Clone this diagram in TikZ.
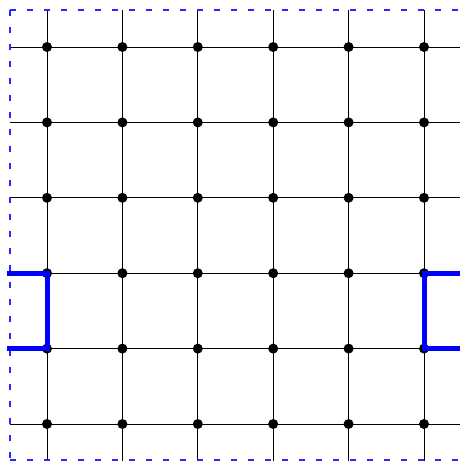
\documentclass[tikz,border=0pt]{standalone}
\begin{document}
\begin{tikzpicture}[x=1pt,y=-1pt,
  gridline/.style={black,line width=0.9pt},
  dot/.style={circle,fill=black,inner sep=0pt,minimum size=10pt},
  frame/.style={draw=blue!85!white,line width=1.4pt,dash pattern=on 6pt off 11pt},
  cut/.style={blue,line width=5pt,line join=miter}]
\useasboundingbox (0,0) rectangle (460,461);
\def\xs{{47,122.4,197.8,273.2,348.6,424}}
% boundary coordinates
\foreach \i in {0,...,5}{
  \pgfmathsetmacro\p{\xs[\i]}
  \coordinate (t\i) at (\p,10);
  \coordinate (b\i) at (\p,462);
  \coordinate (l\i) at (10,\p);
  \coordinate (r\i) at (462,\p);
}
\foreach \i in {0,...,5}{
  \draw[gridline] (t\i) -- (b\i);
  \draw[gridline] (l\i) -- (r\i);
}
\coordinate (c1) at (10,10);
\coordinate (c2) at (462,10);
\coordinate (c3) at (462,460);
\coordinate (c4) at (10,460);
\draw[frame] (c1) -- (c2);
\draw[frame] (c1) -- (c4);
\draw[frame] (c4) -- (c3);
\foreach \i in {0,...,5}{
  \foreach \j in {0,...,5}{
    \pgfmathsetmacro\px{\xs[\i]}
    \pgfmathsetmacro\py{\xs[\j]}
    \node[dot] (n-\i-\j) at (\px,\py) {};
  }
}
\coordinate (la) at (7,273.2);
\coordinate (lb) at (7,348.6);
\coordinate (ra) at (465,273.2);
\coordinate (rb) at (465,348.6);
\draw[cut] (la) -- (n-0-3.center) -- (n-0-4.center) -- (lb);
\draw[cut] (ra) -- (n-5-3.center) -- (n-5-4.center) -- (rb);
\end{tikzpicture}
\end{document}
